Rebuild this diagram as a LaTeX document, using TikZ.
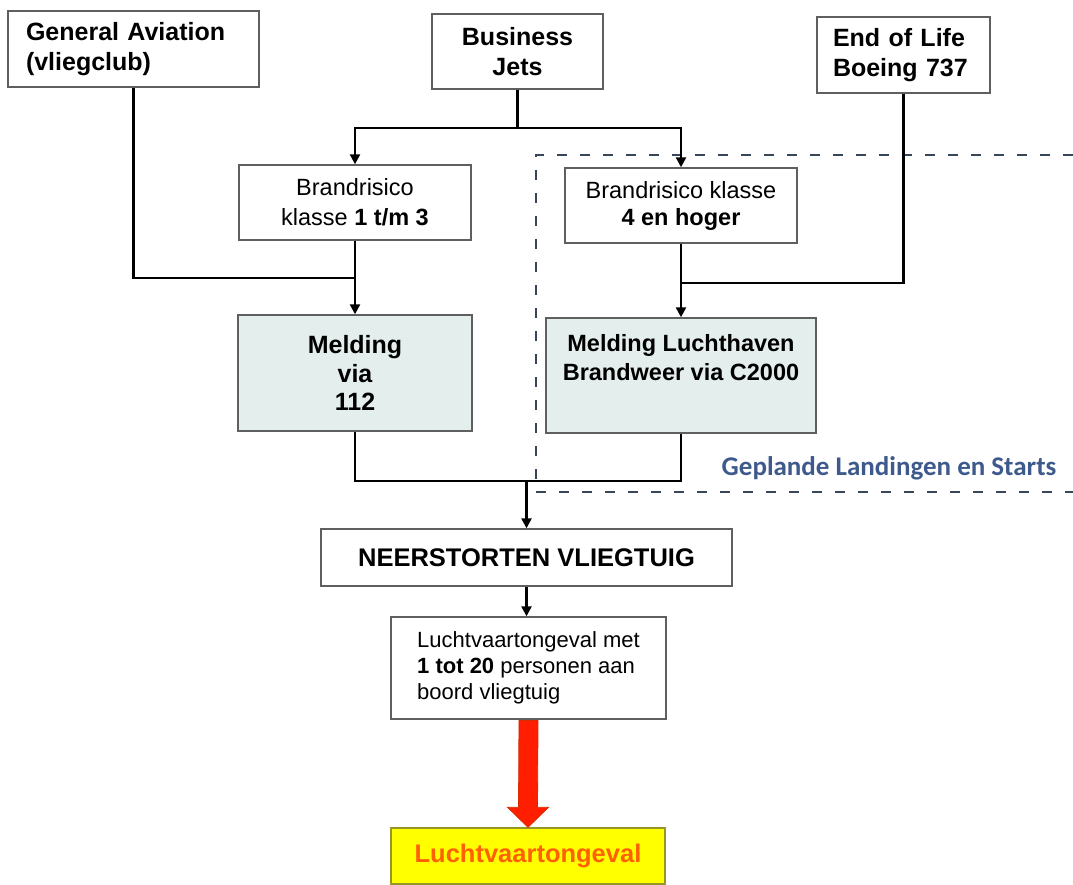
\documentclass[tikz,border=0pt]{standalone}
\usepackage{fontspec}
\setmainfont{Liberation Sans}
\newfontfamily\calib{Carlito}
\usetikzlibrary{arrows.meta,calc}
\definecolor{boxline}{RGB}{95,95,95}
\definecolor{mfill}{RGB}{228,239,237}
\definecolor{dashc}{RGB}{55,70,88}
\definecolor{geptext}{RGB}{62,90,140}
\definecolor{yel}{RGB}{255,255,0}
\definecolor{yelline}{RGB}{150,150,40}
\definecolor{orangetext}{RGB}{255,96,0}
\definecolor{redarrow}{RGB}{255,30,0}
\definecolor{redline}{RGB}{215,45,0}
\begin{document}
\begin{tikzpicture}[x=1pt,y=-1pt,
  box/.style={draw=boxline, line width=1.4pt, fill=white, inner sep=0pt},
  mbox/.style={box, fill=mfill},
  conn/.style={draw=black, line width=2.3pt},
  arr/.style={-{Triangle[width=10pt,length=10pt]}},
  dashr/.style={draw=dashc, line width=2.6pt, dash pattern=on 10pt off 13pt},
  bigb/.style={font=\fontsize{25}{30}\selectfont\bfseries},
  regt/.style={font=\fontsize{23.5}{30}\selectfont}
]
\useasboundingbox (0,0) rectangle (1073,885);

% top row
\node[box, bigb, minimum width=251pt, minimum height=76pt, text width=215pt, inner xsep=18pt, align=left] (ga) at (133.5,49) {General Aviation\\(vliegclub)};
\node[box, bigb, minimum width=171pt, minimum height=75pt, align=center] (bj) at (517.5,51.5) {Business\\Jets};
\node[box, bigb, minimum width=173pt, minimum height=76pt, text width=141pt, inner xsep=16pt, align=left] (eol) at (903.5,55) {End of Life\\Boeing 737};

% brandrisico
\node[box, regt, minimum width=232pt, minimum height=75pt, align=center] (b1) at (355,202.5) {Brandrisico\\klasse \textbf{1 t/m 3}};
\node[box, font=\fontsize{23.5}{27}\selectfont, minimum width=232pt, minimum height=75pt, align=center] (b2) at (681,205.5) {Brandrisico klasse\\\textbf{4 en hoger}};

% melding
\node[mbox, font=\fontsize{25}{28.5}\selectfont\bfseries, minimum width=234pt, minimum height=116pt, align=center] (m1) at (355,373) {Melding\\via\\112};
\node[mbox, minimum width=270pt, minimum height=115pt] (m2) at (681,375.5) {};
\node[font=\fontsize{23.5}{29}\selectfont\bfseries, align=center, inner sep=0pt] (m2t) at (681,358) {Melding Luchthaven\\Brandweer via C2000};

% lower boxes
\node[box, font=\fontsize{25.5}{30}\selectfont\bfseries, minimum width=411pt, minimum height=57pt] (ne) at (526.5,557.5) {NEERSTORTEN VLIEGTUIG};
\node[box, font=\fontsize{22}{26}\selectfont, minimum width=275pt, minimum height=102pt, align=left] (lv) at (528.5,668) {Luchtvaartongeval met\\\textbf{1 tot 20} personen aan\\boord vliegtuig};
\node[draw=yelline, line width=1.4pt, fill=yel, inner sep=0pt, minimum width=274pt, minimum height=56pt, font=\fontsize{25.5}{30}\selectfont\bfseries, text=orangetext] (yl) at (528,856) {Luchtvaartongeval};

% dashed region
\draw[dashr] (1073,155) -- (536,155) -- (536,492) -- (1073,492);
\node[font=\calib\fontsize{27}{30}\selectfont\bfseries, text=geptext, inner sep=0pt] (gep) at (889,468) {Geplande Landingen en Starts};

% connectors
\draw[conn] (bj.south) -- ++(0,38) coordinate (bjm);
\draw[conn,arr] (bjm) -| (b1.north);
\draw[conn,arr] (bjm) -| (b2.north);

\coordinate (j1) at ([yshift=-37pt]b1.south);
\coordinate (j2) at ([yshift=-39pt]b2.south);
\draw[conn] (ga.south) |- (j1);
\draw[conn] (eol.south) |- (j2);
\draw[conn,arr] (b1.south) -- (b1.south |- m1.north);
\draw[conn,arr] (b2.south) -- (b2.south |- m2.north);

\coordinate (j3) at ([yshift=-49pt]m1.south);
\draw[conn] (m1.south) -- (j3) -| (m2.south);
\draw[conn,arr] (ne.north |- j3) -- (ne.north);
\draw[conn,arr] (ne.south) -- (ne.south |- lv.north);

% red arrow
\filldraw[fill=redarrow, draw=redline, line width=0.8pt]
  ($(lv.south)+(-9.5,0.7)$) -- ($(lv.south)+(9.5,0.7)$) -- ($(yl.north)+(9.5,-20)$) -- ($(yl.north)+(20.5,-20)$) -- (yl.north) -- ($(yl.north)+(-20.5,-20)$) -- ($(yl.north)+(-9.5,-20)$) -- cycle;
\end{tikzpicture}
\end{document}
